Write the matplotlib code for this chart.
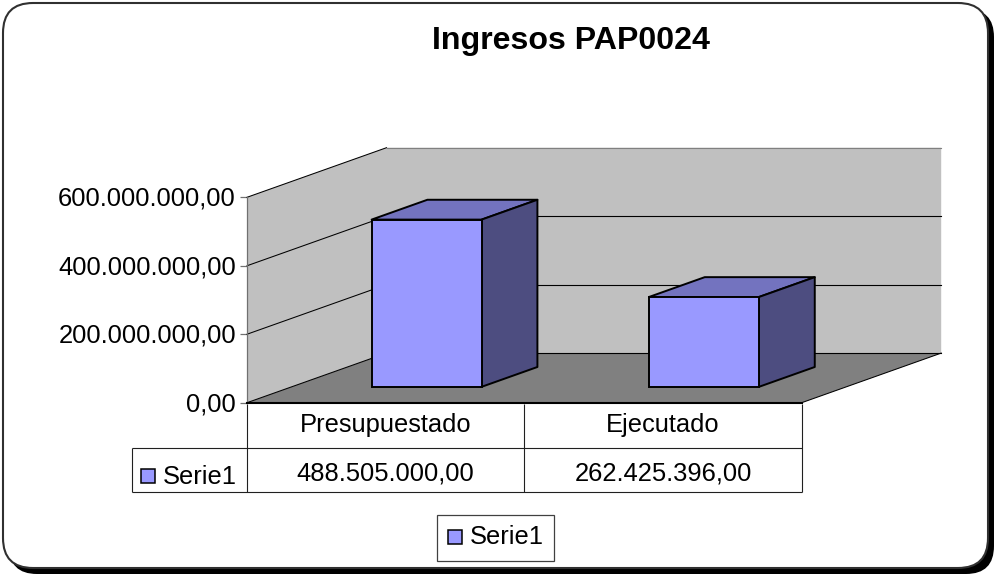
import matplotlib
matplotlib.use("Agg")
import matplotlib.pyplot as plt
from matplotlib.patches import FancyBboxPatch, Rectangle, Polygon
from matplotlib.ticker import FuncFormatter
from matplotlib.transforms import ScaledTranslation

title = "Ingresos PAP0024"
categories = ["Presupuestado", "Ejecutado"]
series_name = "Serie1"
values = [488505000.00, 262425396.00]
y_ticks = [0, 200000000, 400000000, 600000000]

FRONT, TOP, SIDE = "#9999FF", "#7373BF", "#4D4D80"
WALL, FLOOR = "#C0C0C0", "#808080"
W, H = 994, 575
plt.rcParams["font.family"] = ["Liberation Sans", "DejaVu Sans"]
FS = 18.4


def es_fmt(v):
    return f"{v:,.2f}".replace(",", "X").replace(".", ",").replace("X", ".")


fig = plt.figure(figsize=(W / 100, H / 100), dpi=100, facecolor="white")

# page layer, pixel coordinates
bg = fig.add_axes([0, 0, 1, 1], zorder=0)
bg.set_xlim(0, W)
bg.set_ylim(H, 0)
bg.axis("off")
bg.add_patch(FancyBboxPatch((9, 9), 985, 565, boxstyle="round,pad=0,rounding_size=28",
                            fc="black", ec="black", lw=0))
bg.add_patch(FancyBboxPatch((3, 3), 985, 565, boxstyle="round,pad=0,rounding_size=30",
                            fc="white", ec="#303030", lw=1.5))

# chart layer: front plane of the 3D box, value/category scales
L, R, T, B = 247, 801.7, 197.3, 402.7
ax = fig.add_axes([L / W, 1 - B / H, (R - L) / W, (B - T) / H], zorder=2)
ax.patch.set_visible(False)
ax.set_xlim(0, len(categories))
ax.set_ylim(0, y_ticks[-1])
xmax, ymax = ax.get_xlim()[1], y_ticks[-1]
DX = 139.5 / (R - L) * xmax
DY = 49.6 / (B - T) * ymax


def d(x, y, f=1.0):
    return (x + DX * f, y + DY * f)


# side wall and back wall as one outline, so no seam shows between them
ax.add_patch(Polygon([(0, 0), d(0, 0), d(xmax, 0), d(xmax, ymax), d(0, ymax), (0, ymax)],
                     fc=WALL, ec="none", clip_on=False, zorder=1))
ax.add_patch(Polygon([(0, 0), (xmax, 0), d(xmax, 0), d(0, 0)], fc=FLOOR, ec="none", clip_on=False, zorder=1))

for t in y_ticks:
    x0, y0 = d(0, t)
    x1, y1 = d(xmax, t)
    col = "#808080" if t == ymax else "black"
    ax.plot([0, x0], [t, y0], color="black", lw=0.75, clip_on=False, zorder=2)
    ax.plot([x0, x1], [y0, y1], color=col, lw=0.8, clip_on=False, zorder=2)
x0, y0 = d(xmax, 0)
ax.plot([xmax, x0], [0, y0], color="black", lw=0.75, clip_on=False, zorder=2)

bar_w = 110 / (R - L) * xmax
shift = -3.7 / (R - L) * xmax
f0, f1 = 0.32, 0.72
centers = [i + 0.5 + shift for i in range(len(values))]
for cx, v in zip(centers, values):
    xl, xr = cx - bar_w / 2 + DX * f0, cx + bar_w / 2 + DX * f0
    b0 = DY * f0
    ax.add_patch(Polygon([(xl, b0 + v), (xr, b0 + v), d(xr, b0 + v, f1 - f0), d(xl, b0 + v, f1 - f0)],
                         fc=TOP, ec="black", lw=1.4, joinstyle="round", clip_on=False, zorder=3))
    ax.add_patch(Polygon([(xr, b0), d(xr, b0, f1 - f0), d(xr, b0 + v, f1 - f0), (xr, b0 + v)],
                         fc=SIDE, ec="black", lw=1.4, joinstyle="round", clip_on=False, zorder=3))
    ax.bar(xl + bar_w / 2, v, width=bar_w, bottom=b0, color=FRONT, edgecolor="black",
           linewidth=1.4, clip_on=False, zorder=4)

# axes furniture
for s in ("top", "right"):
    ax.spines[s].set_visible(False)
ax.spines["left"].set_color("#707070")
ax.spines["left"].set_linewidth(0.9)
ax.spines["bottom"].set_color("black")
ax.spines["bottom"].set_linewidth(1.5)
ax.spines["left"].set_zorder(5)
ax.spines["bottom"].set_zorder(5)
ax.set_yticks(y_ticks)
ax.yaxis.set_major_formatter(FuncFormatter(lambda v, _: es_fmt(v)))
ax.tick_params(axis="y", length=5, width=0.9, color="#707070", pad=3, labelsize=FS, labelcolor="black")
up = ScaledTranslation(0, 1 / 100, fig.dpi_scale_trans)
for lab in ax.get_yticklabels():
    lab.set_transform(lab.get_transform() + up)
ax.set_xticks([i + 0.5 for i in range(len(categories))])
ax.set_xticklabels(categories)
ax.tick_params(axis="x", length=0, pad=7.5, labelsize=FS, labelcolor="black")

# data table and legend, pixel coordinates
top = fig.add_axes([0, 0, 1, 1], zorder=3)
top.set_xlim(0, W)
top.set_ylim(H, 0)
top.axis("off")
top.patch.set_visible(False)
LINE = dict(color="#202020", lw=0.8, solid_capstyle="butt")
for x in (L, (L + R) / 2, R):
    top.plot([x, x], [B + 1, 492], **LINE)
top.plot([132, R], [448, 448], **LINE)
top.plot([132, R], [492, 492], **LINE)
top.plot([132, 132], [448, 492], **LINE)
top.add_patch(Rectangle((141, 469), 14, 14, fc=FRONT, ec="black", lw=1.1))
top.text(163, 477, series_name, fontsize=FS, va="center", ha="left")
for i, v in enumerate(values):
    top.text(L + (R - L) * (i + 0.5) / len(values), 473, es_fmt(v), fontsize=FS, va="center", ha="center")
top.text(571, 41, title, fontsize=23.1, fontweight="bold", ha="center", va="center")

top.add_patch(Rectangle((437, 515), 117, 46, fc="white", ec="#404040", lw=0.9))
top.add_patch(Rectangle((448, 530), 14, 14, fc=FRONT, ec="black", lw=1.1))
top.text(470, 536.5, series_name, fontsize=FS, va="center", ha="left")

fig.savefig("out.png", dpi=100, facecolor="white")
